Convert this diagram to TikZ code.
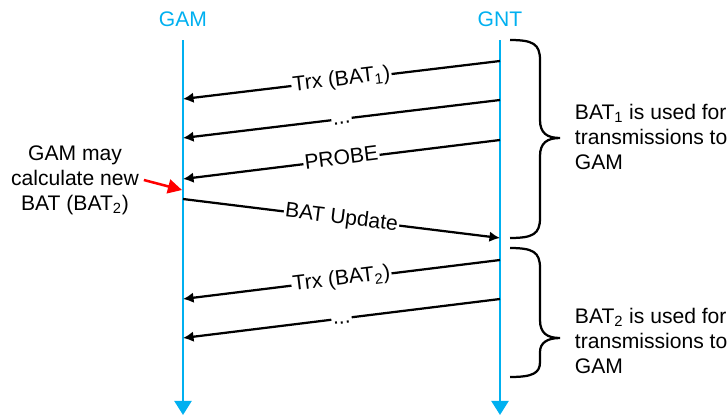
\documentclass[tikz,border=0pt]{standalone}
\usepackage{fontspec}
\setmainfont{Liberation Sans}
\usetikzlibrary{arrows.meta}
\usetikzlibrary{positioning}
\definecolor{lifeblue}{RGB}{0,176,240}

\begin{document}
\begin{tikzpicture}[x=0.025cm,y=-0.025cm,font=\fontsize{15}{17.8}\selectfont]
		  \tikzset{
			life/.style={lifeblue,line width=1.9pt,-{Triangle[length=10pt,width=12pt]}},
			msg/.style={black,line width=1.6pt,-{Latex[length=7.5pt,width=7.5pt]}},
			msglabel/.style={fill=white,sloped,midway,inner sep=1pt,text height=10.5pt,text depth=3pt},
			curly/.style={black,line width=1.6pt},
		  }
		  \useasboundingbox (0,0) rectangle (728,416);
		  %LIFELINE LABELS
		  \node[lifeblue] (gam) at (183,19) {GAM};
		  \node[lifeblue] (gnt) at (500,19) {GNT};
		  %LIFELINES
		  \coordinate (gamtop) at (183,40);
		  \coordinate (gambot) at (183,415);
		  \coordinate (gnttop) at (500,40);
		  \coordinate (gntbot) at (500,415);
		  \draw[life] (gamtop) -- (gambot);
		  \draw[life] (gnttop) -- (gntbot);
		  %MESSAGES GNT TO GAM
		  \foreach \ys/\ye/\txt [count=\i] in {61/99/{Trx (BAT\textsubscript{1})},100/138/{...},140/179/{PROBE},260/299/{Trx (BAT\textsubscript{2})},299/338/{...}}{
		  \coordinate (s\i) at (500,\ys);
		  \coordinate (e\i) at (183,\ye);
		  \draw[msg] (s\i) -- (e\i) node[msglabel] (l\i) {\txt};
		  }
		  %BAT UPDATE
		  \coordinate (up1) at (183,199);
		  \coordinate (up2) at (500,238);
		  \draw[msg] (up1) -- (up2) node[msglabel] (lup) {BAT Update};
		  %NOTE GAM
		  \node[align=center] (note) at (75,180) {GAM may\\calculate new\\BAT (BAT\textsubscript{2})};
		  \coordinate (calc) at (182,190);
		  \draw[red,line width=1.8pt,-{Triangle[length=10pt,width=10pt]}] (note.east) -- (calc);
		  %BRACE 1
		  \draw[curly] (510,40) .. controls (533,40) and (540,44) .. (540,60) -- (540,120)
			.. controls (540,133) and (547,138) .. (560,138)
			.. controls (547,138) and (540,143) .. (540,156) -- (540,218)
			.. controls (540,234) and (533,238) .. (510,238);
		  \node[anchor=west,align=left] (use1) at (570,137) {BAT\textsubscript{1} is used for\\transmissions to\\GAM};
		  %BRACE 2
		  \draw[curly] (510,248) .. controls (533,248) and (540,252) .. (540,268) -- (540,320)
			.. controls (540,333) and (547,338) .. (560,338)
			.. controls (547,338) and (540,343) .. (540,352) -- (540,362)
			.. controls (540,373) and (533,377) .. (510,377);
		  \node[anchor=west,align=left] (use2) at (570,341) {BAT\textsubscript{2} is used for\\transmissions to\\GAM};
\end{tikzpicture}
\end{document}
